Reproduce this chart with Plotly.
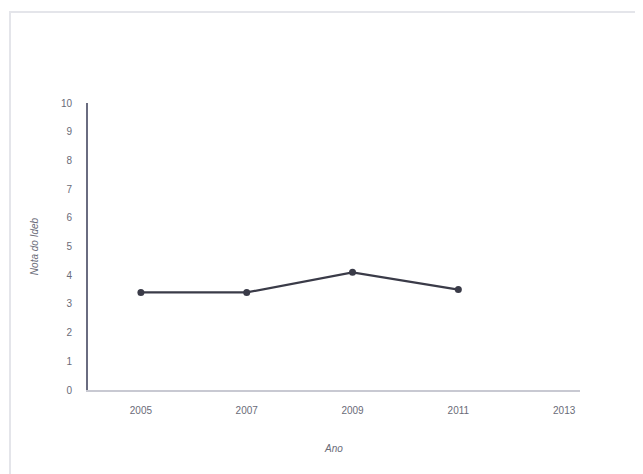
import plotly.graph_objects as go

anos = [2005, 2007, 2009, 2011]
notas = [3.4, 3.4, 4.1, 3.5]
x_ticks = [2005, 2007, 2009, 2011, 2013]
y_ticks = list(range(0, 11))

fig = go.Figure()
fig.add_trace(go.Scatter(
    x=anos, y=notas, mode="lines+markers",
    line=dict(color="#3a3b48", width=2.2),
    marker=dict(color="#3a3b48", size=7),
    showlegend=False,
))

font = dict(family="Liberation Sans, Arial, sans-serif", size=10, color="#6a6b78")

fig.update_layout(
    width=635, height=466,
    margin=dict(l=80, r=63, t=95, b=84),
    paper_bgcolor="white", plot_bgcolor="white",
    font=font,
    xaxis=dict(
        range=[2004.0, 2013.3], tickvals=x_ticks, ticktext=[str(v) for v in x_ticks],
        showgrid=False, zeroline=False, showline=True, linecolor="#c8c9d2", linewidth=1.5,
        ticks="outside", ticklen=10, tickcolor="rgba(0,0,0,0)",
        title=dict(text="<i>Ano</i>", font=dict(size=10, color="#6a6b78"), standoff=30),
    ),
    yaxis=dict(
        range=[0, 10], tickvals=y_ticks,
        showgrid=False, zeroline=False, showline=True, linecolor="#6a6c80", linewidth=1.8,
        ticks="outside", ticklen=12, tickcolor="rgba(0,0,0,0)",
        title=dict(text="<i>Nota do Ideb</i>", font=dict(size=10, color="#6a6b78"), standoff=20),
    ),
    shapes=[dict(type="rect", xref="paper", yref="paper",
                 x0=-0.1585, x1=1.116, y0=-0.35, y1=1.317,
                 line=dict(color="#e4e5ea", width=2), fillcolor="rgba(0,0,0,0)")],
)

fig.write_html("out.html")
